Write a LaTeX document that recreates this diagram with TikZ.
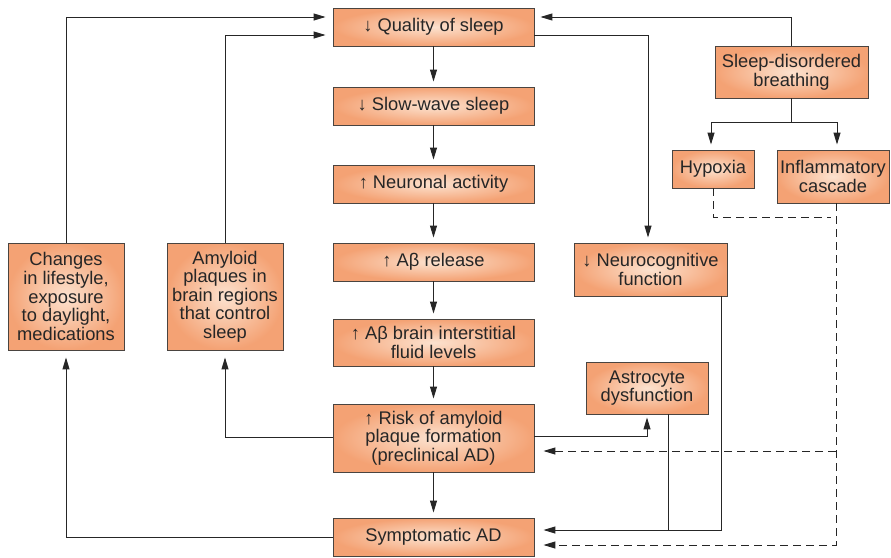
\documentclass[tikz,border=0pt]{standalone}
\usepackage{fontspec}
\setmainfont{Liberation Sans}
\usetikzlibrary{arrows.meta,calc}
\definecolor{boxin}{HTML}{FCE2CF}
\definecolor{boxout}{HTML}{F4A274}
\definecolor{edge}{HTML}{4A4440}
\tikzset{
	box/.style={draw=edge, line width=0.9pt, inner color=boxin, outer color=boxout,
		align=center, inner sep=2pt, text=black!85, font=\fontsize{18.3}{18.6}\selectfont},
	mainbox/.style={box, minimum width=201pt, minimum height=38pt},
	arr/.style={line width=0.95pt, draw=black!85, -{Triangle[length=12pt,width=7pt]}, shorten >=5pt},
	dsh/.style={arr, dash pattern=on 8pt off 5pt},
}

\begin{document}
\begin{tikzpicture}[x=1pt, y=-1pt]
			%%%%% START %%%%%
			\useasboundingbox (0,0) rectangle (891,557);
			
			\node[mainbox] (qual) at (433.5,27) {↓ Quality of sleep};
			\node[mainbox] (sws) at (433.5,106) {↓ Slow-wave sleep};
			\node[mainbox] (neur) at (433.5,184) {↑ Neuronal activity};
			\node[mainbox] (arel) at (433.5,262) {↑ Aβ release};
			\node[mainbox, minimum height=47pt] (isf) at (433.5,342.5) {↑ Aβ brain interstitial\\fluid levels};
			\node[mainbox, minimum height=68pt] (risk) at (433.5,438) {↑ Risk of amyloid\\plaque formation\\(preclinical AD)};
			\node[mainbox] (symp) at (433.5,537) {Symptomatic AD};
			
			\node[box, minimum width=116pt, minimum height=107pt] (chg) at (66,296.5) {Changes\\in lifestyle,\\exposure\\to daylight,\\medications};
			\node[box, minimum width=116pt, minimum height=107pt] (amy) at (225,296.5) {Amyloid\\plaques in\\brain regions\\that control\\sleep};
			
			\node[box, minimum width=153pt, minimum height=52pt] (sdb) at (791.5,72) {Sleep-disordered\\breathing};
			\node[box, minimum width=82pt, minimum height=38pt] (hyp) at (713,169) {Hypoxia};
			\node[box, minimum width=112pt, minimum height=53pt] (infl) at (833,176.5) {Inflammatory\\cascade};
			\node[box, minimum width=153pt, minimum height=53pt] (ncog) at (650.5,269.5) {↓ Neurocognitive\\function};
			\node[box, minimum width=122pt, minimum height=52pt] (astro) at (647,388) {Astrocyte\\dysfunction};
			
			\foreach \a/\b in {qual/sws, sws/neur, neur/arel, arel/isf, isf/risk, risk/symp}
				\draw[arr] (\a) -- (\b);
			
			\draw[arr, shorten >=7pt] (chg.north) |- ([yshift=10pt]qual.west);
			\draw[arr, shorten >=7pt] (amy.north) |- ([yshift=-8pt]qual.west);
			\draw[arr, shorten >=7pt] (symp.west) -| (chg.south);
			\draw[arr, shorten >=7pt] ([yshift=1pt]risk.west) -| (amy.south);
			
			\draw[arr, shorten >=6pt] (sdb.north) |- ([yshift=10pt]qual.east);
			\draw[arr] ([yshift=-8pt]qual.east) -| ([xshift=-2.5pt]ncog.north);
			
			\coordinate (split) at (791.5,122);
			\draw[line width=0.95pt, draw=black!85] (sdb.south) -- (split);
			\draw[arr] (split) -| ([xshift=-2pt]hyp.north);
			\draw[arr] (split) -| ([xshift=4pt]infl.north);
			
			\draw[arr, shorten >=3pt] ([yshift=2pt]risk.east) -| (astro.south);
			\coordinate (ajoin) at (668,530);
			\draw[line width=0.95pt, draw=black!85] ([xshift=21pt]astro.south) -- (ajoin);
			\draw[arr, shorten >=9pt] ([xshift=70.5pt]ncog.south) |- ([yshift=7pt]symp.east);
			
			\coordinate (djoin) at (836,217);
			\draw[dsh, -] (hyp.south) |- (djoin);
			\draw[dsh, shorten >=9pt] ([xshift=3pt]infl.south) |- ([yshift=-8pt]symp.east);
			\draw[dsh, shorten >=9pt] (836,451) -- ([yshift=-13pt]risk.east);
			
			%%%%% END %%%%%
\end{tikzpicture}
\end{document}
